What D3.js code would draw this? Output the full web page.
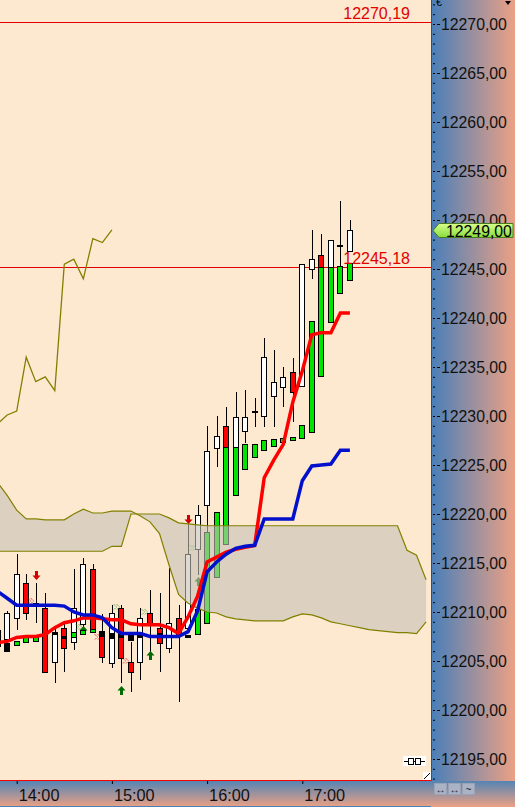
<!DOCTYPE html>
<html>
<head>
<meta charset="utf-8">
<script src="https://cdn.jsdelivr.net/npm/d3@7"></script>
<style>
  body { margin: 0; background: #fde9cf; }
  svg { display: block; font-family: "Liberation Sans", Arial, sans-serif; }
</style>
</head>
<body>
<script>

// 6-minute bars
var times = ["13:48","13:54","14:00","14:06","14:12","14:18","14:24","14:30","14:36","14:42",
  "14:48","14:54","15:00","15:06","15:12","15:18","15:24","15:30","15:36","15:42",
  "15:48","15:54","16:00","16:06","16:12","16:18","16:24","16:30","16:36","16:42",
  "16:48","16:54","17:00","17:06","17:12","17:18","17:24","17:30"];

var open  = [12206.6,12207.2,12209.4,12213.0,12210.9,12210.4,12204.9,12208.4,12206.9,12208.8,
  12214.4,12208.1,12204.8,12210.4,12204.9,12204.9,12209.9,12208.4,12206.3,12209.4,
  12208.4,12216.4,12220.9,12226.8,12229.0,12226.8,12228.5,12230.5,12230.0,12232.1,
  12233.0,12234.5,12233.0,12245.0,12246.4,12245.2,12247.5,12246.9];
var high  = [12208.6,12210.1,12215.9,12213.9,12213.0,12211.9,12208.3,12208.9,12214.4,12215.5,
  12214.9,12209.8,12210.7,12210.7,12206.9,12210.4,12212.2,12211.9,12214.5,12210.7,
  12219.4,12220.9,12229.0,12230.0,12230.9,12232.4,12232.7,12231.8,12238.0,12236.7,
  12235.0,12235.9,12245.5,12249.0,12248.6,12248.0,12251.9,12250.0];
var low   = [12205.8,12205.9,12208.2,12209.2,12208.9,12203.8,12202.8,12203.9,12206.1,12208.0,
  12208.0,12204.8,12204.3,12202.8,12201.8,12203.1,12205.3,12203.9,12205.8,12200.8,
  12208.3,12213.8,12218.2,12224.8,12226.8,12226.8,12227.2,12228.9,12228.9,12228.9,
  12230.9,12229.4,12233.0,12244.0,12244.0,12245.2,12245.2,12246.9];
var close = [12208.2,12209.9,12213.9,12209.9,12210.8,12203.9,12208.0,12206.4,12210.4,12214.9,
  12208.2,12205.4,12209.9,12205.3,12203.9,12209.4,12208.9,12206.9,12208.9,12207.7,
  12215.9,12219.9,12226.4,12228.0,12226.8,12229.9,12229.9,12230.4,12236.0,12233.5,
  12234.0,12232.5,12245.5,12246.0,12244.0,12248.0,12247.4,12249.0];

// second box series (g = green, k = black)
var boxHi = [null,12206.8,12207.0,12207.4,12207.7,null,12208.0,12207.6,12208.0,12208.2,
  12208.3,12208.1,12207.9,12207.9,12207.8,12207.8,null,12207.9,null,null,
  12207.7,12210.3,12218.2,12220.2,12226.8,12226.8,12227.1,12227.1,12227.5,12227.7,
  12227.8,12227.9,12229.1,12239.7,12245.2,12245.2,12245.3,12245.6];
var boxLo = [null,12206.0,12206.6,12206.9,12207.1,null,12207.8,12207.4,12207.5,12207.8,
  12208.0,12207.6,12207.4,12207.5,12207.2,12207.5,null,12207.5,null,null,
  12207.5,12207.7,12208.9,12213.6,12216.9,12221.9,12224.5,12225.8,12226.5,12227.0,
  12227.4,12227.6,12227.8,12228.4,12234.1,12239.6,12242.5,12243.9];
var boxKind = [null,"k","g","g","g",null,"k","k","g","g",
  "g","k","k","k","k","k",null,"k",null,null,
  "k","g","g","g","g","g","g","g","g","g",
  "g","g","g","g","g","g","g","g"];

var tenkan = [12206.9,12207.0,12207.4,12207.5,12207.5,12207.7,12208.4,12208.9,12209.1,12209.4,
  12209.4,12209.3,12209.2,12209.2,12208.8,12208.7,12208.7,12208.7,12208.4,12207.8,
  12209.5,12211.6,12215.1,12215.6,12216.1,12216.4,12216.6,12216.8,12223.7,12225.5,
  12227.1,12231.4,12234.6,12238.3,12238.5,12238.5,12240.5,12240.5];
var kijun = [12212.1,12211.4,12210.7,12210.7,12210.7,12210.7,12210.7,12210.6,12210.0,12209.7,
  12209.7,12209.4,12208.4,12207.8,12207.8,12207.8,12207.5,12207.5,12207.5,12207.5,
  12208.0,12210.1,12214.1,12215.1,12215.9,12216.5,12216.7,12216.8,12219.5,12219.5,
  12219.5,12219.5,12223.4,12224.9,12225.0,12225.1,12226.5,12226.5];

// lagging line, drawn from 13:48 to 14:54
var chikou = [12229.2,12230.1,12230.5,12236.0,12233.5,12234.0,12232.6,12245.5,12246.0,12244.0,
  12248.1,12247.7,12249.0];

// cloud runs ahead of the last bar
var cloudTimes = times.concat(["17:36","17:42","17:48","17:54","18:00","18:06","18:12","18:18"]);
var spanA = [12223.2,12221.9,12220.4,12219.5,12219.5,12219.4,12219.4,12219.4,12220.0,12220.5,
  12220.1,12220.1,12220.3,12220.3,12220.3,12219.8,12219.2,12218.0,12214.8,12211.8,
  12210.9,12210.4,12210.0,12209.9,12209.5,12209.3,12209.2,12209.1,12209.1,12209.1,
  12209.1,12209.5,12209.8,12209.7,12209.4,12209.0,12208.8,12208.6,12208.4,12208.2,
  12208.1,12208.0,12207.9,12207.9,12207.8,12209.0];
var spanB = [12216.2,12216.2,12216.2,12216.2,12216.2,12216.2,12216.2,12216.2,12216.2,12216.2,
  12216.2,12216.2,12216.7,12216.7,12220.0,12220.0,12220.0,12220.0,12219.6,12219.1,
  12219.0,12218.9,12218.8,12218.8,12218.8,12218.8,12218.8,12218.8,12218.8,12218.8,
  12218.8,12218.8,12218.8,12218.8,12218.8,12218.8,12218.8,12218.8,12218.8,12218.8,
  12218.8,12218.8,12218.8,12216.3,12215.8,12213.3];

// signal markers
var upArrowTimes = ["14:42","15:06","15:24","15:54"];
var upArrowPrices = [12208.6,12202.5,12206.0,12213.6];
var downArrowTimes = ["14:12","15:48"];
var downArrowPrices = [12213.3,12219.0];
var redChevTimes = ["14:06","14:48","15:06"];
var redChevPrices = [12211.1,12207.5,12205.0];
var greenChevTimes = ["14:36","15:00","15:18","15:48"];
var greenChevPrices = [12208.5,12210.5,12210.0,12216.5];

var priceLines = [12270.19, 12245.18];
var lastPrice = 12249.00;
var priceTicks = [12195,12200,12205,12210,12215,12220,12225,12230,12235,12240,12245,12250,12255,12260,12265,12270];
var timeTicks = ["14:00","15:00","16:00","17:00"];

var W = 515, H = 807, plotW = 431, plotH = 780;

var svg = d3.select("body").append("svg")
    .attr("width", W)
    .attr("height", H);

var defs = svg.append("defs");
var gAxis = defs.append("linearGradient").attr("id", "gAxis")
    .attr("x1", 0).attr("y1", 0).attr("x2", 1).attr("y2", 0);
gAxis.append("stop").attr("offset", 0).attr("stop-color", "#4a7fb9");
gAxis.append("stop").attr("offset", 1).attr("stop-color", "#eca184");
var gBand = defs.append("linearGradient").attr("id", "gBand")
    .attr("x1", 0).attr("y1", 0).attr("x2", 0).attr("y2", 1);
gBand.append("stop").attr("offset", 0).attr("stop-color", "#5584b4");
gBand.append("stop").attr("offset", 1).attr("stop-color", "#eca184");
var gMark = defs.append("linearGradient").attr("id", "gMark")
    .attr("x1", 0).attr("y1", 0).attr("x2", 0).attr("y2", 1);
gMark.append("stop").attr("offset", 0).attr("stop-color", "#d8ff8c");
gMark.append("stop").attr("offset", 1).attr("stop-color", "#86dc3c");
defs.append("clipPath").attr("id", "plotClip")
  .append("rect").attr("width", plotW).attr("height", plotH);

// scales
var parse = d3.timeParse("%H:%M");
var x = d3.scaleTime()
    .domain([parse("14:00"), parse("17:00")])
    .range([16.7, 302.3]);
var y = d3.scaleLinear()
    .domain([12195, 12270])
    .range([759, 24]);

var bars = times.map(function(t, i) {
  return {t: parse(t), o: open[i], h: high[i], l: low[i], c: close[i],
          bh: boxHi[i], bl: boxLo[i], bk: boxKind[i]};
});
function px(d) { return Math.round(x(d)) + 0.5; }

// panels
svg.append("rect").attr("width", plotW).attr("height", plotH).attr("fill", "#fde9cf");
svg.append("rect").attr("x", 432).attr("width", W - 432).attr("height", plotH + 1).attr("fill", "url(#gAxis)");
svg.append("rect").attr("y", 781).attr("width", W).attr("height", H - 781).attr("fill", "url(#gBand)");
svg.append("line").attr("x1", 0).attr("x2", plotW).attr("y1", 806.5).attr("y2", 806.5)
    .attr("stroke", "#4a80b8");

var plot = svg.append("g").attr("clip-path", "url(#plotClip)");

// price lines
plot.selectAll(".pline")
    .data(priceLines)
  .enter().append("line")
    .attr("class", "pline")
    .attr("x1", 0).attr("x2", plotW)
    .attr("y1", function(d) { return Math.round(y(d)) + 0.5; })
    .attr("y2", function(d) { return Math.round(y(d)) + 0.5; })
    .attr("stroke", "#e00000");

// candles
var candle = plot.selectAll(".candle")
    .data(bars)
  .enter().append("g")
    .attr("class", "candle");

candle.append("line")
    .attr("x1", function(d) { return px(d.t); })
    .attr("x2", function(d) { return px(d.t); })
    .attr("y1", function(d) { return Math.round(y(d.h)); })
    .attr("y2", function(d) { return Math.round(y(d.l)); })
    .attr("stroke", "#000");

candle.append("rect")
    .attr("x", function(d) { return px(d.t) - 3; })
    .attr("y", function(d) { return Math.round(y(Math.max(d.o, d.c))) + 0.5; })
    .attr("width", 5)
    .attr("height", function(d) { return Math.max(1, Math.round(Math.abs(y(d.o) - y(d.c)))); })
    .attr("fill", function(d) { return d.c >= d.o ? "#fff" : "#ff0000"; })
    .attr("stroke", "#000");

// markers
function upArrow(cx, tip) {
  return "M" + cx + "," + tip + "l4,4.5h-2.5v4.5h-3v-4.5h-2.5z";
}
function downArrow(cx, tip) {
  return "M" + cx + "," + tip + "l4,-4.5h-2.5v-4.5h-3v4.5h-2.5z";
}
function chevron(cx, cy) {
  return "M" + cx + "," + (cy - 3) + "l3,3l-3,3M" + (cx + 3) + "," + (cy - 3) + "l3,3l-3,3";
}

plot.selectAll(".up")
    .data(upArrowTimes)
  .enter().append("path")
    .attr("d", function(d, i) { return upArrow(px(parse(d)), Math.round(y(upArrowPrices[i]))); })
    .attr("fill", "#006b00");

plot.selectAll(".down")
    .data(downArrowTimes)
  .enter().append("path")
    .attr("d", function(d, i) { return downArrow(px(parse(d)), Math.round(y(downArrowPrices[i]))); })
    .attr("fill", "#d00000");

plot.selectAll(".rchev")
    .data(redChevTimes)
  .enter().append("path")
    .attr("d", function(d, i) { return chevron(px(parse(d)) + 1, Math.round(y(redChevPrices[i]))); })
    .attr("fill", "none").attr("stroke", "#e00000").attr("stroke-dasharray", "1,1");

plot.selectAll(".gchev")
    .data(greenChevTimes)
  .enter().append("path")
    .attr("d", function(d, i) { return chevron(px(parse(d)) + 1, Math.round(y(greenChevPrices[i]))); })
    .attr("fill", "none").attr("stroke", "#2f9a2f").attr("stroke-dasharray", "1,1");

// second boxes on top of the candles
plot.selectAll(".box")
    .data(bars.filter(function(d) { return d.bk; }))
  .enter().append("rect")
    .attr("x", function(d) { return px(d.t) - 3; })
    .attr("y", function(d) { return Math.round(y(d.bh)) + 0.5; })
    .attr("width", 5)
    .attr("height", function(d) { return Math.max(1, Math.round(y(d.bl) - y(d.bh))); })
    .attr("fill", function(d) { return d.bk == "g" ? "#00e400" : "#000"; })
    .attr("stroke", "#000");

// cloud
var cloud = cloudTimes.map(function(t, i) { return {t: parse(t), a: spanA[i], b: spanB[i]}; });

plot.append("path")
    .datum(cloud)
    .attr("d", d3.area()
        .x(function(d) { return x(d.t); })
        .y0(function(d) { return y(d.a); })
        .y1(function(d) { return y(d.b); }))
    .attr("fill", "rgb(198,193,184)")
    .attr("fill-opacity", 0.6);

["a", "b"].forEach(function(k) {
  plot.append("path")
      .datum(cloud)
      .attr("d", d3.line()
          .x(function(d) { return x(d.t); })
          .y(function(d) { return y(d[k]); }))
      .attr("fill", "none")
      .attr("stroke", "#808000")
      .attr("stroke-width", 1.2);
});

// lagging line
plot.append("path")
    .datum(chikou)
    .attr("d", d3.line()
        .x(function(d, i) { return x(parse(times[i])); })
        .y(function(d) { return y(d); }))
    .attr("fill", "none")
    .attr("stroke", "#808000")
    .attr("stroke-width", 1.3);

// tenkan / kijun
var line = d3.line()
    .x(function(d, i) { return x(parse(times[i])); })
    .y(function(d) { return y(d); });

plot.append("path").datum(tenkan).attr("d", line)
    .attr("fill", "none").attr("stroke", "#ff0000").attr("stroke-width", 3.5);
plot.append("path").datum(kijun).attr("d", line)
    .attr("fill", "none").attr("stroke", "#0010cc").attr("stroke-width", 3.5);

// price line labels
plot.selectAll(".plabel")
    .data(priceLines)
  .enter().append("text")
    .attr("x", 410)
    .attr("y", function(d) { return Math.round(y(d)) - 3; })
    .attr("text-anchor", "end")
    .style("font-size", "16px")
    .attr("fill", "#e00000")
    .text(function(d) { return d.toFixed(2).replace(".", ","); });

// small tool icons in the corner
var icon = svg.append("g");
icon.append("rect").attr("x", 403).attr("y", 756).attr("width", 23).attr("height", 10).attr("fill", "#fff");
icon.append("path").attr("d", "M404,761.5h21").attr("stroke", "#000");
icon.append("rect").attr("x", 408.5).attr("y", 758.5).attr("width", 5).attr("height", 6).attr("fill", "#fff").attr("stroke", "#000");
icon.append("rect").attr("x", 415.5).attr("y", 758.5).attr("width", 5).attr("height", 6).attr("fill", "#fff").attr("stroke", "#000");
icon.append("rect").attr("x", 423).attr("y", 772).attr("width", 8).attr("height", 8).attr("fill", "#fff");
icon.append("path").attr("d", "M424,779L430,773").attr("stroke", "#000");

// plot border
svg.append("line").attr("x1", 431.5).attr("x2", 431.5).attr("y1", 0).attr("y2", 781).attr("stroke", "#ff0000");
svg.append("line").attr("x1", 0).attr("x2", 432).attr("y1", 780.5).attr("y2", 780.5).attr("stroke", "#ff0000");

// right price axis
var fmt = d3.formatLocale({decimal: ",", thousands: ".", grouping: [3], currency: ["", "€"]}).format(".2f");

svg.append("g")
    .attr("transform", "translate(433,0)")
    .call(d3.axisRight(y).tickValues(d3.range(12193, 12273)).tickSize(2).tickFormat(""))
    .call(function(g) { g.select(".domain").remove(); });

var yAx = svg.append("g")
    .attr("transform", "translate(437,0)")
    .call(d3.axisRight(y).tickValues(priceTicks).tickSize(3).tickPadding(1).tickFormat(fmt));
yAx.select(".domain").remove();
yAx.selectAll("text")
    .style("font-size", "15.8px")
    .style("font-family", "'Liberation Sans', Arial, sans-serif")
    .attr("fill", "#111");

svg.append("text").attr("x", 436).attr("y", 6).style("font-size", "11px").text("€");
svg.append("path").attr("d", "M505,1h6l-3,4z").attr("fill", "#000");

// last price marker
var ly = Math.round(y(lastPrice)) + 0.5;
svg.append("path")
    .attr("d", "M433," + ly + "L439," + (ly - 7) + "H513V" + (ly + 7) + "H439Z")
    .attr("fill", "url(#gMark)")
    .attr("stroke", "#4a7a20");
svg.append("text")
    .attr("x", 446)
    .attr("y", ly + 6)
    .style("font-size", "15.8px")
    .attr("fill", "#000")
    .text(fmt(lastPrice));

// time axis
var xAx = svg.append("g")
    .attr("transform", "translate(0,781)")
    .call(d3.axisBottom(x).tickValues(timeTicks.map(parse)).tickSize(3).tickPadding(5)
        .tickFormat(d3.timeFormat("%H:%M")));
xAx.select(".domain").remove();
xAx.selectAll("text")
    .attr("text-anchor", "start")
    .attr("x", 1.5)
    .style("font-size", "16.3px")
    .style("font-family", "'Liberation Sans', Arial, sans-serif")
    .attr("fill", "#111");

// buttons bottom right
var btn = svg.append("g");
[434, 448, 462].forEach(function(bx, i) {
  btn.append("rect").attr("x", bx + 0.5).attr("y", 783.5).attr("width", 12).attr("height", 11)
      .attr("fill", "#aab3c6").attr("stroke", "#9aa3b6");
  btn.append("text").attr("x", bx + 6.5).attr("y", 793).attr("text-anchor", "middle")
      .style("font-size", "10px").attr("fill", "#222").text(i == 2 ? "~" : "↔");
});

</script>
</body>
</html>
